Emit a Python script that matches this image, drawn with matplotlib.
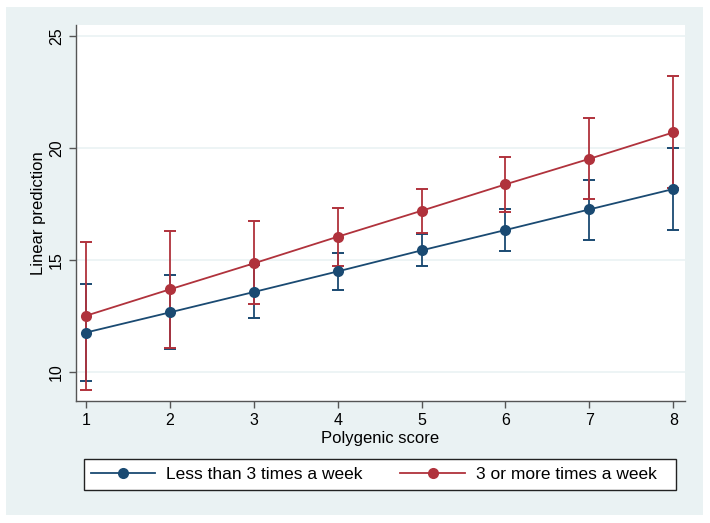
import matplotlib
matplotlib.use("Agg")
import matplotlib.pyplot as plt
from matplotlib.patches import Rectangle

plt.rcParams['font.family'] = ['Liberation Sans', 'DejaVu Sans']

# data
scores = [1, 2, 3, 4, 5, 6, 7, 8]

low_pred = [11.76, 12.66, 13.57, 14.49, 15.43, 16.34, 17.26, 18.17]
low_lo = [9.60, 11.01, 12.40, 13.67, 14.75, 15.42, 15.89, 16.34]
low_hi = [13.93, 14.34, 14.78, 15.33, 16.17, 17.26, 18.58, 20.00]

high_pred = [12.51, 13.69, 14.85, 16.04, 17.20, 18.38, 19.52, 20.70]
high_lo = [9.21, 11.07, 13.02, 14.75, 16.22, 17.14, 17.72, 18.20]
high_hi = [15.82, 16.29, 16.76, 17.32, 18.18, 19.61, 21.34, 23.20]

labels = ["Less than 3 times a week", "3 or more times a week"]
blue = "#1a4a72"
red = "#b0323c"
bg = "#eaf2f3"

W, H = 710, 523
fig = plt.figure(figsize=(W / 100, H / 100), dpi=100, facecolor="white")

# stata-style graph region and legend box
fig.patches.append(Rectangle((6 / W, 1 - 515 / H), 697 / W, 508 / H,
                             transform=fig.transFigure, facecolor=bg,
                             edgecolor="none", zorder=-5))
fig.patches.append(Rectangle((84 / W, 1 - 490 / H), 592 / W, 31 / H,
                             transform=fig.transFigure, facecolor="white",
                             edgecolor="#222222", lw=1.0, zorder=-4))

ax = fig.add_axes([76 / W, 1 - 401 / H, 609 / W, 376 / H])
ax.set_zorder(2)
ax.set_facecolor("white")

# confidence intervals first, then lines on top
for pred, lo, hi, c in [(low_pred, low_lo, low_hi, blue),
                        (high_pred, high_lo, high_hi, red)]:
    err = [[p - l for p, l in zip(pred, lo)], [h - p for p, h in zip(pred, hi)]]
    ax.errorbar(scores, pred, yerr=err, fmt="none", ecolor=c, elinewidth=1.3,
                capsize=4, capthick=1.4, zorder=2)

handles = []
for pred, c, lab in [(low_pred, blue, labels[0]), (high_pred, red, labels[1])]:
    h, = ax.plot(scores, pred, color=c, lw=1.3, marker="o", markersize=8,
                 markeredgewidth=0, label=lab, zorder=3)
    handles.append(h)

ax.set_xlim(0.88, 8.14)
ax.set_ylim(8.7, 25.5)
ax.set_xticks(scores)
ax.set_yticks([10, 15, 20, 25])
ax.grid(axis="y", color=bg, lw=1.2, zorder=0)
ax.set_axisbelow(True)

for s in ["top", "right"]:
    ax.spines[s].set_visible(False)
for s in ["left", "bottom"]:
    ax.spines[s].set_color("#555555")
    ax.spines[s].set_linewidth(1.0)

ax.tick_params(axis="both", color="#555555", length=5, width=1, labelsize=11.5)
plt.setp(ax.get_yticklabels(), rotation=90, va="center")
ax.set_xlabel("Polygenic score", fontsize=12, labelpad=2)
ax.set_ylabel("Linear prediction", fontsize=12, labelpad=2)

leg = fig.legend(handles, labels, ncol=2, loc="center",
                 bbox_to_anchor=(373.5 / W, 1 - 474.5 / H),
                 fontsize=12.5, handlelength=3.7, handletextpad=0.63,
                 columnspacing=2.2, frameon=False, borderaxespad=0,
                 borderpad=0)
leg.set_zorder(3)

fig.savefig("out.png", dpi=100, facecolor="white")
